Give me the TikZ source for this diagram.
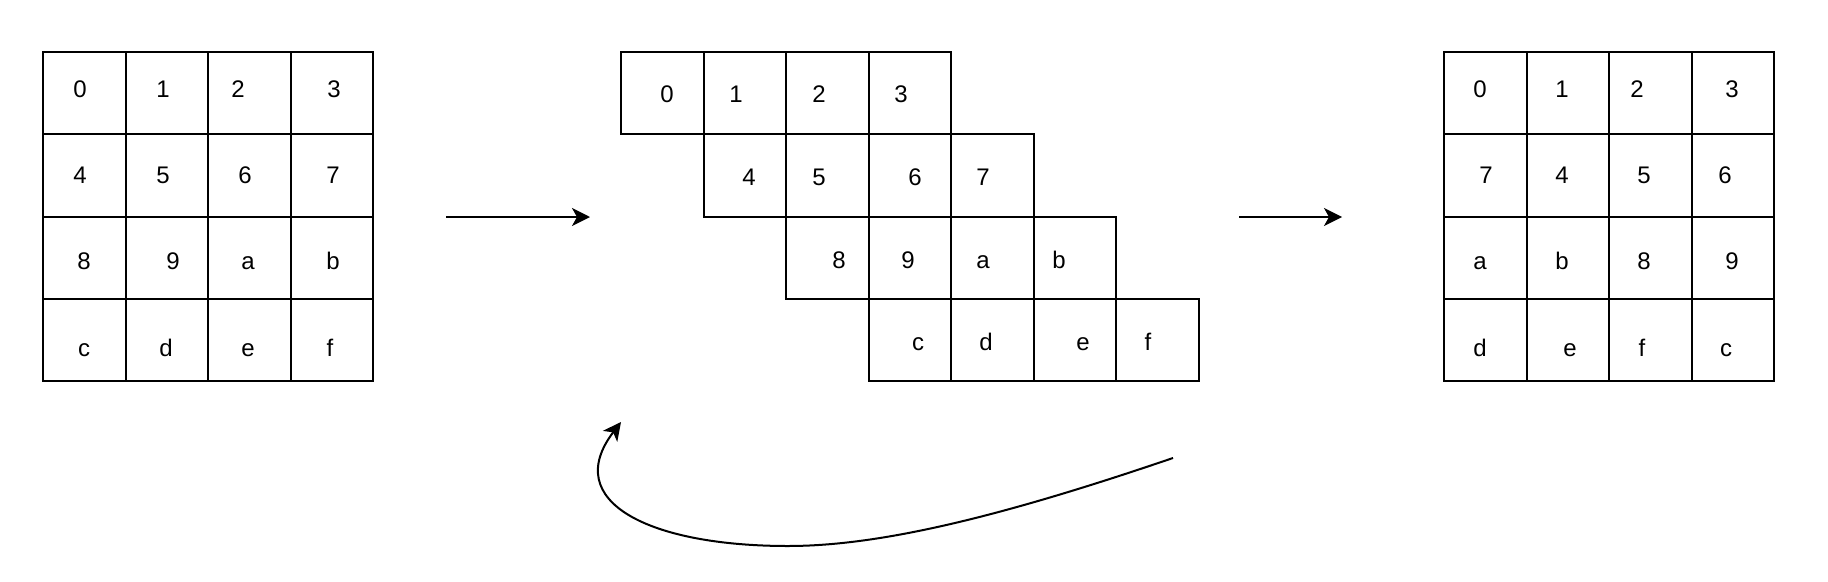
\documentclass[tikz,border=0pt]{standalone}
\usepackage{fontspec}
\setmainfont{Liberation Sans}
\usetikzlibrary{arrows.meta}
\tikzset{
  cell/.style={draw=black, line width=2pt, minimum width=82.5pt, minimum height=82.5pt, inner sep=0pt},
  lbl/.style={anchor=base, inner sep=0pt, font=\fontsize{24}{28}\selectfont},
  conn/.style={line width=2pt, -{Stealth[length=18pt,width=18pt,inset=5pt]}}
}
\begin{document}
\begin{tikzpicture}[x=1pt,y=-1pt]
\useasboundingbox (0,0) rectangle (1828,581);
% left grid
\foreach \r in {0,...,3}{
  \foreach \c in {0,...,3}{
    \node[cell] (L-\r-\c) at ({43+82.5*\c+41.25},{52+82.3*\r+41.15}) {};
  }
}
% right grid
\foreach \r in {0,...,3}{
  \foreach \c in {0,...,3}{
    \node[cell] (R-\r-\c) at ({1444+82.5*\c+41.25},{52+82.3*\r+41.15}) {};
  }
}
% middle (shifted) grid
\foreach \r in {0,...,3}{
  \foreach \c in {0,...,3}{
    \node[cell] (M-\r-\c) at ({621+82.5*(\r+\c)+41.25},{52+82.3*\r+41.15}) {};
  }
}
% left labels
\foreach \x/\t [count=\i] in {80/0,163/1,238/2,334/3}{\node[lbl] (lt1-\i) at (\x,97) {\t};}
\foreach \x/\t [count=\i] in {80/4,163/5,245/6,333/7}{\node[lbl] (lt2-\i) at (\x,183) {\t};}
\foreach \x/\t [count=\i] in {84/8,173/9,248/a,333/b}{\node[lbl] (lt3-\i) at (\x,269) {\t};}
\foreach \x/\t [count=\i] in {84/c,166/d,248/e,330/f}{\node[lbl] (lt4-\i) at (\x,356) {\t};}
% middle labels
\foreach \x/\t [count=\i] in {667/0,736/1,819/2,901/3}{\node[lbl] (mt1-\i) at (\x,102) {\t};}
\foreach \x/\t [count=\i] in {749/4,819/5,915/6,983/7}{\node[lbl] (mt2-\i) at (\x,185) {\t};}
\foreach \x/\t [count=\i] in {839/8,908/9,983/a,1059/b}{\node[lbl] (mt3-\i) at (\x,268) {\t};}
\foreach \x/\t [count=\i] in {918/c,986/d,1083/e,1148/f}{\node[lbl] (mt4-\i) at (\x,350) {\t};}
% right labels
\foreach \x/\t [count=\i] in {1480/0,1562/1,1637/2,1732/3}{\node[lbl] (rt1-\i) at (\x,97) {\t};}
\foreach \x/\t [count=\i] in {1486/7,1562/4,1644/5,1725/6}{\node[lbl] (rt2-\i) at (\x,183) {\t};}
\foreach \x/\t [count=\i] in {1480/a,1562/b,1644/8,1732/9}{\node[lbl] (rt3-\i) at (\x,269) {\t};}
\foreach \x/\t [count=\i] in {1480/d,1570/e,1642/f,1726/c}{\node[lbl] (rt4-\i) at (\x,356) {\t};}
% arrows
\coordinate (a1s) at (446,217);
\coordinate (a1e) at (590,217);
\coordinate (a2s) at (1239,217);
\coordinate (a2e) at (1342,217);
\draw[conn] (a1s) -- (a1e);
\draw[conn] (a2s) -- (a2e);
% curved return arrow
\coordinate (cs) at (1173,458);
\coordinate (cb) at (788,546);
\coordinate (ce) at (621,422);
\draw[conn] (cs) .. controls (1000,517) and (880,546) .. (cb)
  .. controls (650,546) and (560,502) .. (ce);
\end{tikzpicture}
\end{document}
